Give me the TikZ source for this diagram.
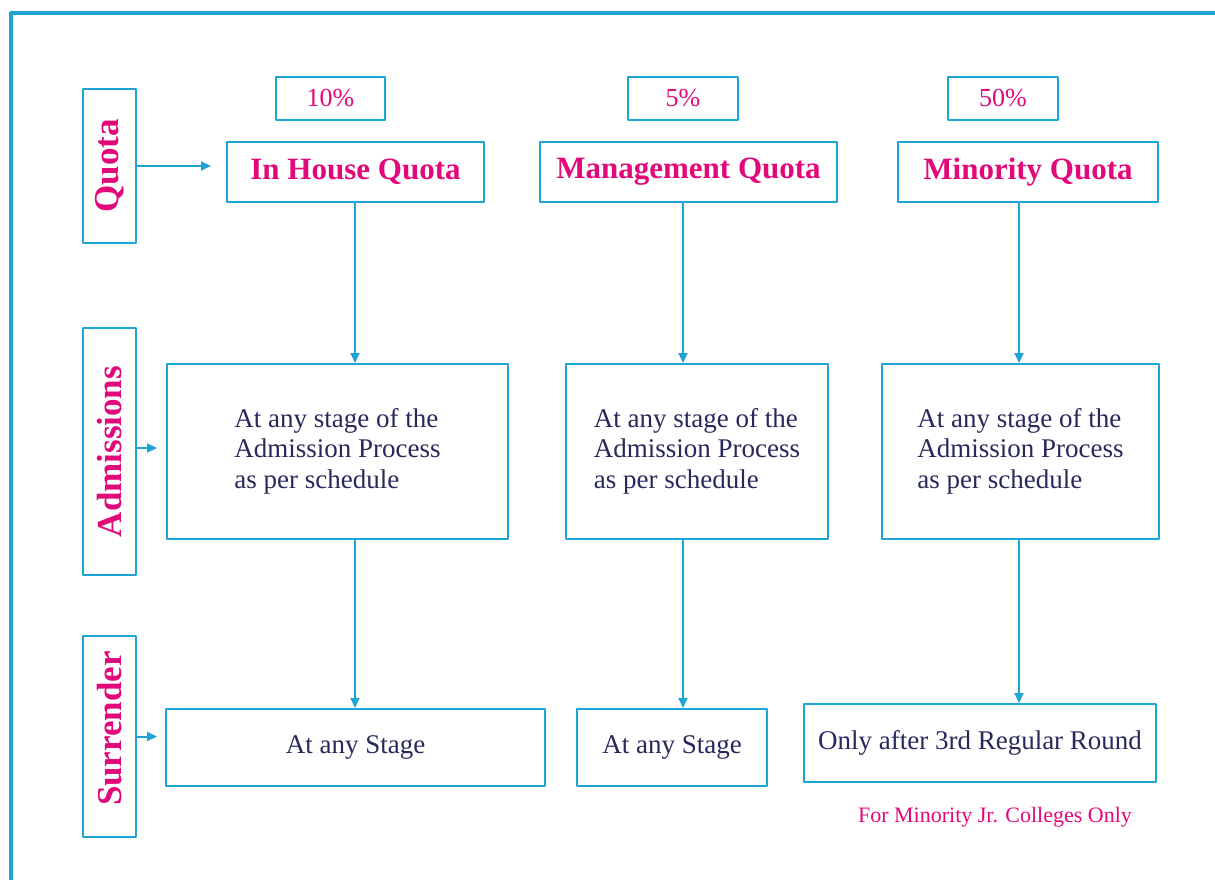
\documentclass[tikz,border=0pt]{standalone}
\usepackage{fontspec}
\setmainfont{Liberation Serif}
\usetikzlibrary{arrows.meta}
\definecolor{lineblue}{RGB}{30,165,215}
\definecolor{quotapink}{RGB}{226,8,122}
\definecolor{textnavy}{RGB}{40,40,92}
\def\admtxt{\raisebox{8pt}{\begin{tabular}{@{}l@{}}At any stage of the\\Admission Process\\as per schedule\end{tabular}}}
\begin{document}
\begin{tikzpicture}[x=1pt,y=-1pt,>={Triangle[length=10pt,width=9pt]}, line join=round,
	every node/.style={inner sep=0pt},
	cell/.style={draw=lineblue, line width=2pt, text=textnavy, font=\fontsize{27}{30.5}\selectfont},
	quotabox/.style={cell, minimum height=60, text=quotapink, font=\bfseries\fontsize{31}{36}\selectfont},
	pctbox/.style={cell, minimum width=110, minimum height=43, text=quotapink, font=\fontsize{26}{30}\selectfont},
	sidelab/.style={cell, minimum width=53, text=quotapink, font=\bfseries\fontsize{35}{40}\selectfont},
	link/.style={draw=lineblue, line width=2pt, ->}]
	\useasboundingbox (0,0) rectangle (1215,880);
	\draw[lineblue, line width=3.2pt] (11,880)--(11,13)--(1215,13);
	% side labels
	\node[sidelab, minimum height=154] (qlab) at (109.5,166) {\rotatebox{90}{Quota}};
	\node[sidelab, minimum height=247] (alab) at (109.5,451.5) {\rotatebox{90}{Admissions}};
	\node[sidelab, minimum height=201] (slab) at (109.5,736.5) {\rotatebox{90}{\hspace*{16pt}Surrender}};
	% shares
	\node[pctbox, minimum width=109] (pin) at (330.5,98.5) {10\%};
	\node[pctbox] (pman) at (683,98.5) {5\%};
	\node[pctbox] (pmin) at (1003,98.5) {50\%};
	% quotas
	\node[quotabox, minimum width=257] (hin) at (355.5,172) {In House Quota};
	\node[quotabox, minimum width=297] (hman) at (688.5,172) {Management Quota};
	\node[quotabox, minimum width=260] (hmin) at (1028,172) {Minority Quota};
	% admissions
	\node[cell, minimum width=341, minimum height=175] (ain) at (337.5,451.5) {\admtxt};
	\node[cell, minimum width=262, minimum height=175] (aman) at (697,451.5) {\admtxt};
	\node[cell, minimum width=277, minimum height=175] (amin) at (1020.5,451.5) {\admtxt};
	% surrender
	\node[cell, minimum width=379, minimum height=77] (sin) at (355.5,747.5) {\raisebox{5pt}{At any Stage}};
	\node[cell, minimum width=190, minimum height=77] (sman) at (672,747.5) {\raisebox{5pt}{At any Stage}};
	\node[cell, minimum width=352, minimum height=78] (smin) at (980,743) {\raisebox{5pt}{Only after 3rd Regular Round}};
	\node[text=quotapink, font=\fontsize{22}{26}\selectfont] (note) at (995,817) {For Minority Jr. Colleges Only};
	\coordinate (cin) at (355,0); \coordinate (cman) at (683,0); \coordinate (cmin) at (1019,0);
	\draw[link, shorten >=15pt] (qlab) -- (qlab -| hin.west);
	\draw[link, shorten >=9pt] ([yshift=3.5pt]alab.east) -- ([yshift=3.5pt]alab.east -| ain.west);
	\draw[link, shorten >=8pt] (slab) -- (slab -| sin.west);
	\draw[link] (hin.south -| cin) -- (ain.north -| cin);
	\draw[link] (ain.south -| cin) -- (sin.north -| cin);
	\draw[link] (hman.south -| cman) -- (aman.north -| cman);
	\draw[link] (aman.south -| cman) -- (sman.north -| cman);
	\draw[link] (hmin.south -| cmin) -- (amin.north -| cmin);
	\draw[link] (amin.south -| cmin) -- (smin.north -| cmin);
\end{tikzpicture}
\end{document}
